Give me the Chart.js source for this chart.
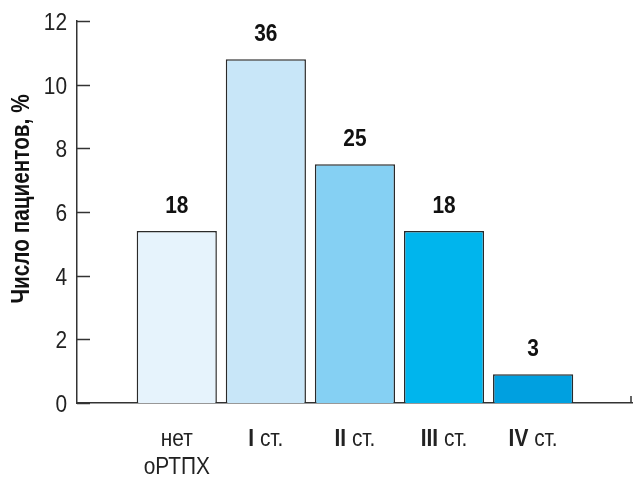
<!DOCTYPE html>
<html>
<head>
<meta charset="utf-8">
<script src="https://cdn.jsdelivr.net/npm/chart.js@4/dist/chart.umd.min.js"></script>
<style>
  html, body { margin: 0; padding: 0; background: #fff; }
  #wrap { width: 634px; height: 479px; }
</style>
</head>
<body>
<div id="wrap"><canvas id="c" width="634" height="479"></canvas></div>
<script>
// Patient groups by stage
const groupNames = ['нет оРТПХ', 'I ст.', 'II ст.', 'III ст.', 'IV ст.'];
// Roman part (bold) and suffix (regular) of each axis label, one pair per line
const labelLines = [
  [['', 'нет'], ['', 'оРТПХ']],
  [['I', ' ст.']],
  [['II', ' ст.']],
  [['III', ' ст.']],
  [['IV', ' ст.']]
];
// Number of patients in each group
const patientCounts = [18, 36, 25, 18, 3];
// Percent axis ticks
const percentTicks = [0, 2, 4, 6, 8, 10, 12];
const axisTitle = 'Число пациентов, %';
const barColors = ['#e6f3fc', '#c8e6f8', '#85d0f3', '#00b5ed', '#00a0e0'];

const FONT = "'Liberation Sans', Arial, sans-serif";
const INK = '#222222';

const points = patientCounts.map((c, i) => ({ x: i, y: c }));

// draw text squeezed horizontally around its anchor (condensed look)
function narrowText(ctx, text, x, y, font, align, squeeze, angle) {
  ctx.save();
  ctx.translate(x, y);
  if (angle) ctx.rotate(angle);
  ctx.scale(squeeze, 1);
  ctx.font = font;
  ctx.textAlign = align;
  ctx.textBaseline = 'middle';
  ctx.fillText(text, 0, 0);
  ctx.restore();
}
function narrowWidth(ctx, text, font, squeeze) {
  ctx.save();
  ctx.font = font;
  const w = ctx.measureText(text).width * squeeze;
  ctx.restore();
  return w;
}

const decorations = {
  id: 'decorations',
  afterDatasetsDraw(chart) {
    const ctx = chart.ctx;
    const yS = chart.scales.y;
    const xS = chart.scales.x;
    const area = chart.chartArea;
    ctx.save();
    // inward tick marks and labels on the percent axis
    ctx.strokeStyle = '#333';
    ctx.lineWidth = 1.5;
    ctx.fillStyle = INK;
    percentTicks.forEach(v => {
      const py = Math.round(yS.getPixelForValue(v)) + 0.5;
      ctx.beginPath();
      ctx.moveTo(area.left, py);
      ctx.lineTo(area.left + 13, py);
      ctx.stroke();
      narrowText(ctx, String(v), area.left - 10, py + 1.5, '24px ' + FONT, 'right', 0.87);
    });
    // axis title
    ctx.fillStyle = '#111';
    narrowText(ctx, axisTitle, 22, (area.top + area.bottom) / 2 - 13,
      'bold 25px ' + FONT, 'center', 0.83, -Math.PI / 2);

    // end mark on the category axis
    const ex = xS.getPixelForValue(xS.max) - 1;
    ctx.beginPath();
    ctx.moveTo(ex, area.bottom);
    ctx.lineTo(ex, area.bottom - 7);
    ctx.stroke();

    // counts above the bars
    const meta = chart.getDatasetMeta(0);
    ctx.fillStyle = '#111';
    meta.data.forEach((bar, i) => {
      narrowText(ctx, String(patientCounts[i]), bar.x, bar.y - 25, 'bold 24px ' + FONT, 'center', 0.87);
    });

    // category labels under the axis
    ctx.fillStyle = INK;
    const boldFont = 'bold 24px ' + FONT;
    const normFont = '24px ' + FONT;
    labelLines.forEach((lines, i) => {
      const cx = xS.getPixelForValue(i);
      lines.forEach((parts, li) => {
        const w1 = narrowWidth(ctx, parts[0], boldFont, 0.87);
        const w2 = narrowWidth(ctx, parts[1], normFont, 0.87);
        const x0 = cx - (w1 + w2) / 2;
        const y0 = area.bottom + 36 + li * 28;
        if (parts[0]) narrowText(ctx, parts[0], x0, y0, boldFont, 'left', 0.87);
        narrowText(ctx, parts[1], x0 + w1, y0, normFont, 'left', 0.87);
      });
    });
    ctx.restore();
  }
};

new Chart(document.getElementById('c'), {
  type: 'bar',
  data: {
    labels: groupNames,
    datasets: [{
      data: points,
      yAxisID: 'yc',
      backgroundColor: barColors,
      borderColor: '#2a2a2a',
      borderWidth: 1.5,
      barPercentage: 0.9,
      categoryPercentage: 1.0
    }]
  },
  options: {
    responsive: false,
    animation: false,
    layout: { padding: { top: 21, right: 2, left: 0, bottom: 0 } },
    plugins: { legend: { display: false }, tooltip: { enabled: false } },
    scales: {
      x: {
        type: 'linear',
        min: -1.12,
        max: 5.11,
        offset: false,
        grid: { display: false, drawTicks: false },
        border: { display: true, color: '#333', width: 1.5 },
        ticks: { display: false },
        afterFit(scale) { scale.height = 76; }
      },
      y: {
        type: 'linear',
        position: 'left',
        min: 0,
        max: 12,
        afterBuildTicks(scale) { scale.ticks = percentTicks.map(v => ({ value: v })); },
        grid: { display: false, drawTicks: false },
        border: { display: true, color: '#333', width: 1.5 },
        ticks: { display: false },
        afterFit(scale) { scale.width = 77; }
      },
      yc: {
        type: 'linear',
        display: false,
        min: 0,
        max: 40
      }
    }
  },
  plugins: [decorations]
});
</script>
</body>
</html>
